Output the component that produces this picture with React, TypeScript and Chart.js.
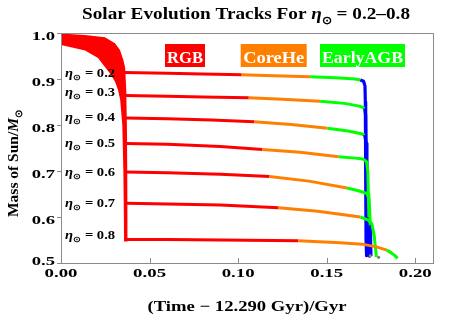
import React, { useEffect, useRef } from "react";
import { Chart, registerables } from "chart.js";
Chart.register(...registerables);

type P = [number, number];

// ---------- data ----------
const etaValues = [0.2, 0.3, 0.4, 0.5, 0.6, 0.7, 0.8];
const etaLabelMass = [0.904, 0.862, 0.809, 0.752, 0.69, 0.621, 0.552];
const etaLabelTime = 0.0023;

const phaseNames = ["RGB", "CoreHe", "EarlyAGB"];
const phaseColors = ["#ff0000", "#ff8000", "#00ff00"];
const lateColor = "#0000ff";

const xTickValues = [0, 0.05, 0.1, 0.15, 0.2];
const xTickLabels = ["0.00", "0.05", "0.10", "0.15", "0.20"];
const yTickValues = [0.5, 0.6, 0.7, 0.8, 0.9, 1.0];
const yTickLabels = ["0.5", "0.6", "0.7", "0.8", "0.9", "1.0"];

// dense bundle of early RGB tracks (all eta): upper edge and lower edge
const rgbBandUpper: P[] = [[0, 0.999], [0.0136, 0.9957], [0.0248, 0.9907], [0.0305, 0.9776], [0.0333, 0.963], [0.0352, 0.9413], [0.0362, 0.925], [0.0368, 0.88], [0.0372, 0.8], [0.0374, 0.7], [0.0375, 0.6], [0.0375, 0.547]];
const rgbBandLower: P[] = [[0, 0.974], [0.0136, 0.962], [0.0209, 0.9457], [0.0248, 0.926], [0.0277, 0.912], [0.0305, 0.894], [0.0322, 0.876], [0.0334, 0.855], [0.0346, 0.8], [0.0352, 0.7], [0.0355, 0.6], [0.0356, 0.547]];

// eta = 0.2
const rgb02: P[] = [[0.0358, 0.914], [0.06, 0.9125], [0.08, 0.911], [0.102, 0.909]];
const core02: P[] = [[0.102, 0.909], [0.12, 0.907], [0.1407, 0.905]];
const agb02: P[] = [[0.1407, 0.905], [0.155, 0.9025], [0.166, 0.9], [0.169, 0.898]];
const late02: P[] = [[0.169, 0.898], [0.1708, 0.895], [0.1716, 0.885], [0.1718, 0.85], [0.172, 0.7], [0.1722, 0.55], [0.1725, 0.516]];
// eta = 0.3
const rgb03: P[] = [[0.0362, 0.864], [0.06, 0.8625], [0.08, 0.861], [0.106, 0.859]];
const core03: P[] = [[0.106, 0.859], [0.125, 0.856], [0.1463, 0.8515]];
const agb03: P[] = [[0.1463, 0.8515], [0.16, 0.847], [0.1685, 0.841], [0.1715, 0.836]];
const late03: P[] = [[0.1715, 0.836], [0.172, 0.82], [0.1723, 0.7], [0.1727, 0.55], [0.173, 0.516]];
// eta = 0.4
const rgb04: P[] = [[0.0365, 0.815], [0.06, 0.8135], [0.085, 0.811], [0.109, 0.807]];
const core04: P[] = [[0.109, 0.807], [0.13, 0.801], [0.1505, 0.793]];
const agb04: P[] = [[0.1505, 0.793], [0.162, 0.787], [0.1695, 0.781], [0.1715, 0.778]];
const late04: P[] = [[0.1715, 0.778], [0.1723, 0.76], [0.1727, 0.6], [0.173, 0.516]];
// eta = 0.5
const rgb05: P[] = [[0.0367, 0.76], [0.06, 0.758], [0.09, 0.753], [0.1137, 0.747]];
const core05: P[] = [[0.1137, 0.747], [0.135, 0.741], [0.1567, 0.731]];
const agb05: P[] = [[0.1567, 0.731], [0.166, 0.728], [0.1705, 0.726], [0.1725, 0.72], [0.1732, 0.7], [0.1735, 0.65], [0.1738, 0.6]];
const late05: P[] = [[0.1738, 0.6], [0.174, 0.55], [0.1742, 0.515]];
// eta = 0.6
const rgb06: P[] = [[0.0368, 0.698], [0.06, 0.696], [0.09, 0.693], [0.1177, 0.688]];
const core06: P[] = [[0.1177, 0.688], [0.14, 0.678], [0.1614, 0.663]];
const agb06: P[] = [[0.1614, 0.663], [0.168, 0.657], [0.1727, 0.651], [0.1738, 0.64], [0.1742, 0.62], [0.1746, 0.58]];
const late06: P[] = [[0.1746, 0.58], [0.1748, 0.54], [0.175, 0.515]];
// eta = 0.7
const rgb07: P[] = [[0.0369, 0.63], [0.06, 0.6285], [0.09, 0.626], [0.1228, 0.62]];
const core07: P[] = [[0.1228, 0.62], [0.145, 0.6125], [0.169, 0.6]];
const agb07: P[] = [[0.169, 0.6], [0.1735, 0.593], [0.1755, 0.585], [0.1768, 0.56], [0.1776, 0.53], [0.178, 0.513]];
const late07: P[] = [];
// eta = 0.8
const rgb08: P[] = [[0.0369, 0.551], [0.06, 0.551], [0.09, 0.55], [0.134, 0.5485]];
const core08: P[] = [[0.134, 0.5485], [0.1576, 0.544], [0.17, 0.541], [0.178, 0.535], [0.184, 0.528]];
const agb08: P[] = [[0.184, 0.528], [0.1865, 0.522], [0.1885, 0.516], [0.19, 0.51]];
const late08: P[] = [];

const endTime = [0.1746, 0.1793];
const endMass = [0.516, 0.5124];

const tracks = [
  [rgb02, core02, agb02, late02],
  [rgb03, core03, agb03, late03],
  [rgb04, core04, agb04, late04],
  [rgb05, core05, agb05, late05],
  [rgb06, core06, agb06, late06],
  [rgb07, core07, agb07, late07],
  [rgb08, core08, agb08, late08],
];

// ---------- text helpers ----------
const FAMILY = '"Liberation Serif", "Times New Roman", serif';
type Seg = { t: string; size: number; italic?: boolean; dy?: number };
const fontOf = (s: Seg) => `${s.italic ? "italic " : ""}bold ${s.size}px ${FAMILY}`;

function drawRich(
  ctx: CanvasRenderingContext2D,
  segs: Seg[],
  x: number,
  y: number,
  align: "left" | "center" | "right",
  targetW?: number,
  rotate = false,
  color = "#000"
) {
  ctx.save();
  let total = 0;
  const ws = segs.map((s) => {
    ctx.font = fontOf(s);
    const w = ctx.measureText(s.t).width;
    total += w;
    return w;
  });
  const sx = targetW ? targetW / total : 1;
  ctx.translate(x, y);
  if (rotate) ctx.rotate(-Math.PI / 2);
  ctx.scale(sx, 1);
  let cx = align === "center" ? -total / 2 : align === "right" ? -total : 0;
  ctx.textAlign = "left";
  ctx.textBaseline = "alphabetic";
  ctx.fillStyle = color;
  segs.forEach((s, i) => {
    ctx.font = fontOf(s);
    ctx.fillText(s.t, cx, s.dy ?? 0);
    cx += ws[i];
  });
  ctx.restore();
}

const legendBoxes = [
  { x0: 165, x1: 205, tw: 36 },
  { x0: 240.7, x1: 306.7, tw: 61 },
  { x0: 320, x1: 405, tw: 81 },
];

const bandPlugin = {
  id: "band",
  beforeDatasetsDraw(chart: any) {
    const ctx: CanvasRenderingContext2D = chart.ctx;
    const xs = chart.scales.x;
    const ys = chart.scales.y;
    const ca = chart.chartArea;
    ctx.save();
    ctx.beginPath();
    ctx.rect(ca.left, ca.top, ca.right - ca.left, ca.bottom - ca.top);
    ctx.clip();
    ctx.beginPath();
    const pts = [...rgbBandUpper, ...rgbBandLower.slice().reverse()];
    pts.forEach(([x, y], i) => {
      const px = xs.getPixelForValue(x);
      const py = ys.getPixelForValue(y);
      if (i === 0) ctx.moveTo(px, py);
      else ctx.lineTo(px, py);
    });
    ctx.closePath();
    ctx.fillStyle = phaseColors[0];
    ctx.fill();
    ctx.restore();
  },
};

const overlay = {
  id: "overlay",
  afterDraw(chart: any) {
    const ctx: CanvasRenderingContext2D = chart.ctx;
    const ca = chart.chartArea;
    const xs = chart.scales.x;
    const ys = chart.scales.y;

    // frame
    ctx.save();
    ctx.strokeStyle = "#8a8a8a";
    ctx.lineWidth = 1;
    ctx.strokeRect(Math.round(ca.left) + 0.5, Math.round(ca.top) + 0.5, Math.round(ca.right - ca.left), Math.round(ca.bottom - ca.top));
    ctx.beginPath();
    xTickValues.forEach((v) => {
      const px = Math.round(xs.getPixelForValue(v)) + 0.5;
      ctx.moveTo(px, ca.bottom);
      ctx.lineTo(px, ca.bottom - 5);
    });
    yTickValues.forEach((v) => {
      const py = Math.round(ys.getPixelForValue(v)) + 0.5;
      ctx.moveTo(ca.left, py);
      ctx.lineTo(ca.left - 4, py);
    });
    ctx.stroke();
    ctx.restore();

    // tick labels
    xTickValues.forEach((v, i) => {
      drawRich(ctx, [{ t: xTickLabels[i], size: 13.5 }], xs.getPixelForValue(v), ca.bottom + 14, "center", 33);
    });
    yTickValues.forEach((v, i) => {
      const py = ys.getPixelForValue(v);
      const off = i === 0 ? 2 : 6.5;
      drawRich(ctx, [{ t: yTickLabels[i], size: 13.5 }], ca.left - 6, py + off, "right", 23.3);
    });

    // title
    drawRich(
      ctx,
      [
        { t: "Solar Evolution Tracks For ", size: 17.5 },
        { t: "η", size: 17.5, italic: true },
        { t: "⊙", size: 11, dy: 5 },
        { t: " = 0.2–0.8", size: 17.5 },
      ],
      246,
      18.5,
      "center",
      328
    );

    // axis titles
    drawRich(ctx, [{ t: "(Time − 12.290 Gyr)/Gyr", size: 15 }], (ca.left + ca.right) / 2, 311, "center", 199);
    drawRich(
      ctx,
      [
        { t: "Mass of Sun/", size: 15.5 },
        { t: "M", size: 15.5, italic: true },
        { t: "⊙", size: 10, dy: 4 },
      ],
      18.3,
      163.5,
      "center",
      107,
      true
    );

    // eta labels
    etaValues.forEach((eta, i) => {
      drawRich(
        ctx,
        [
          { t: "η", size: 12.5, italic: true },
          { t: "⊙", size: 8, dy: 3 },
          { t: " = " + eta.toFixed(1), size: 12.5 },
        ],
        xs.getPixelForValue(etaLabelTime),
        ys.getPixelForValue(etaLabelMass[i]),
        "left",
        50
      );
    });

    // legend boxes
    phaseNames.forEach((name, i) => {
      const b = legendBoxes[i];
      ctx.save();
      ctx.fillStyle = phaseColors[i];
      ctx.fillRect(b.x0, 44, b.x1 - b.x0, 23);
      ctx.restore();
      drawRich(ctx, [{ t: name, size: 17 }], (b.x0 + b.x1) / 2, 62.5, "center", b.tw, false, "#ffffff");
    });
  },
};

export default function App() {
  const ref = useRef<HTMLCanvasElement>(null);
  useEffect(() => {
    document.body.style.margin = "0";
    const canvas = ref.current!;
    const datasets: any[] = [];
    let idx = 0;
    const add = (pts: P[], color: string, width = 3) => {
      if (!pts.length) return;
      datasets.push({
        data: pts.map(([x, y]) => ({ x, y })),
        borderColor: color,
        backgroundColor: color,
        borderWidth: width,
        pointRadius: 0,
        fill: false,
        tension: 0,
        borderJoinStyle: "round",
        borderCapStyle: "butt",
        order: -idx++,
      });
    };
    tracks.forEach((tr) => {
      add(tr[0], phaseColors[0]);
      add(tr[1], phaseColors[1]);
      add(tr[2], phaseColors[2]);
      add(tr[3], lateColor, 3.2);
    });
    datasets.push({
      type: "scatter",
      data: endTime.map((x, i) => ({ x, y: endMass[i] })),
      pointRadius: 1.6,
      pointBackgroundColor: "#808080",
      pointBorderWidth: 0,
      showLine: false,
      order: -idx++,
    });

    const chart = new Chart(canvas, {
      type: "line",
      data: { datasets },
      options: {
        responsive: false,
        animation: false,
        devicePixelRatio: 1,
        events: [],
        layout: { padding: { top: 33, right: 30, left: 0, bottom: 0 } },
        plugins: { legend: { display: false }, title: { display: false }, tooltip: { enabled: false } },
        scales: {
          x: {
            type: "linear",
            min: 0,
            max: 0.21,
            grid: { display: false },
            border: { display: false },
            ticks: { display: false },
            afterFit: (s: any) => {
              s.height = 54;
            },
          },
          y: {
            type: "linear",
            min: 0.5,
            max: 1.0,
            grid: { display: false },
            border: { display: false },
            ticks: { display: false },
            afterFit: (s: any) => {
              s.width = 61;
            },
          },
        },
      } as any,
      plugins: [bandPlugin, overlay],
    });
    return () => chart.destroy();
  }, []);
  return (
    <div style={{ position: "absolute", left: 0, top: 0, width: 463, height: 317, background: "#fff" }}>
      <canvas ref={ref} width={463} height={317} style={{ width: 463, height: 317, display: "block" }} />
    </div>
  );
}
